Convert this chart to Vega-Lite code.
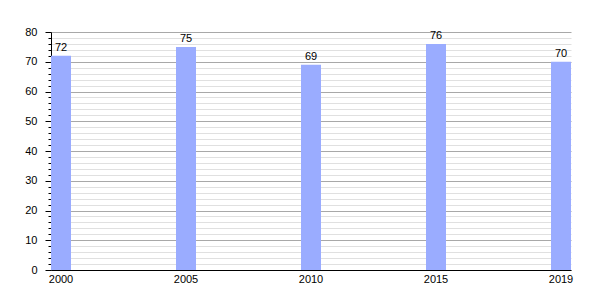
{
  "$schema": "https://vega.github.io/schema/vega-lite/v6.json",
  "width": 520,
  "height": 238,
  "autosize": {"type": "none"},
  "padding": {"left": 51, "top": 32, "right": 29, "bottom": 30},
  "background": "white",
  "data": {"values": [
    {"year": "2000", "value": 72},
    {"year": "2005", "value": 75},
    {"year": "2010", "value": 69},
    {"year": "2015", "value": 76},
    {"year": "2019", "value": 70}
  ]},
  "config": {
    "view": {"stroke": null},
    "font": "Liberation Sans",
    "axis": {"labelFont": "Liberation Sans", "labelFontSize": 11, "labelColor": "#000"}
  },
  "encoding": {
    "x": {
      "field": "year", "type": "nominal", "sort": null,
      "scale": {"type": "band", "paddingInner": 0.84, "paddingOuter": 0},
      "axis": {"title": null, "labelAngle": 0, "ticks": false, "labelPadding": 3, "domainColor": "#000", "domainWidth": 1, "grid": false}
    },
    "y": {
      "field": "value", "type": "quantitative",
      "scale": {"domain": [0, 80], "nice": false},
      "axis": {
        "title": null,
        "values": [0,2,4,6,8,10,12,14,16,18,20,22,24,26,28,30,32,34,36,38,40,42,44,46,48,50,52,54,56,58,60,62,64,66,68,70,72,74,76,78,80],
        "labelExpr": "datum.value % 10 === 0 ? datum.label : ''",
        "grid": true,
        "gridColor": {"condition": {"test": "datum.value % 10 === 0", "value": "#a8a8a8"}, "value": "#e0e0e0"},
        "gridWidth": 1,
        "tickColor": "#000",
        "tickSize": {"condition": {"test": "datum.value % 10 === 0", "value": 6}, "value": 3},
        "labelPadding": 8,
        "domainColor": "#000",
        "domainWidth": 1
      }
    }
  },
  "layer": [
    {"mark": {"type": "bar", "color": "#9aacff"}},
    {
      "mark": {"type": "text", "dy": -8, "fontSize": 11, "color": "#000", "font": "Liberation Sans"},
      "encoding": {"text": {"field": "value", "type": "quantitative"}}
    }
  ]
}
